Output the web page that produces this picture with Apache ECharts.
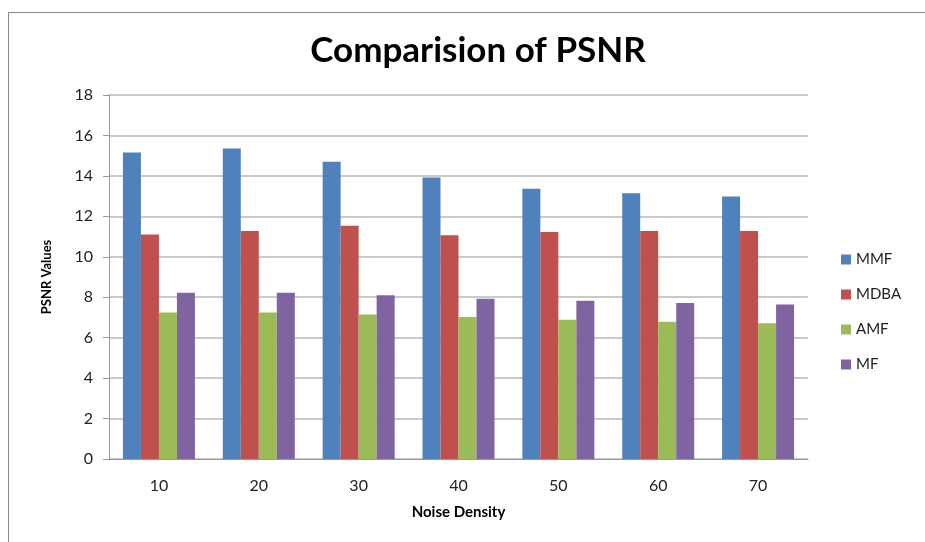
<!DOCTYPE html>
<html>
<head>
<meta charset="utf-8">
<script src="https://cdn.jsdelivr.net/npm/echarts@6/dist/echarts.min.js"></script>
<style>html,body{margin:0;padding:0;background:#fff;}#c{width:925px;height:542px;}</style>
</head>
<body>
<div id="c"></div>
<script>
const categories = ['10', '20', '30', '40', '50', '60', '70'];
const mmf  = [15.16, 15.36, 14.70, 13.92, 13.37, 13.14, 12.98];
const mdba = [11.10, 11.27, 11.53, 11.07, 11.22, 11.27, 11.27];
const amf  = [7.25, 7.25, 7.14, 7.02, 6.89, 6.79, 6.71];
const mf   = [8.22, 8.22, 8.10, 7.92, 7.82, 7.72, 7.64];
const seriesNames = ['MMF', 'MDBA', 'AMF', 'MF'];
const colors = ['#4F81BD', '#C0504D', '#9BBB59', '#8064A2'];

const chart = echarts.init(document.getElementById('c'));
const font = 'Lato, "Open Sans", sans-serif';
chart.setOption({
  animation: false,
  color: colors,
  textStyle: { fontFamily: font },
  title: {
    text: 'Comparision of PSNR',
    left: 473, top: 28, textAlign: 'center',
    textStyle: { fontSize: 35, fontWeight: 'bold', color: '#000', fontFamily: font }
  },
  graphic: [{
    type: 'rect', shape: { x: 8.5, y: 12.5, width: 930, height: 540 },
    style: { fill: 'none', stroke: '#888', lineWidth: 1 }, silent: true
  }],
  legend: {
    orient: 'vertical', left: 836, top: 247,
    itemWidth: 10, itemHeight: 10, itemGap: 20,
    icon: 'rect',
    textStyle: { fontSize: 15, color: '#222', fontFamily: font },
    data: seriesNames
  },
  grid: { left: 109, right: 117, top: 95, bottom: 83 },
  xAxis: {
    type: 'category', data: categories,
    name: 'Noise Density', nameLocation: 'middle', nameGap: 46,
    nameTextStyle: { fontSize: 15, fontWeight: 'bold', color: '#000' },
    axisLine: { lineStyle: { color: '#999' } },
    axisTick: { show: false },
    axisLabel: { fontSize: 16, color: '#222', margin: 19 }
  },
  yAxis: {
    type: 'value', min: 0, max: 18, interval: 2,
    name: 'PSNR Values', nameLocation: 'middle', nameGap: 56,
    nameTextStyle: { fontSize: 13, fontWeight: 'bold', color: '#000' },
    axisLine: { show: true, lineStyle: { color: '#999' } },
    axisTick: { show: true, length: 6, lineStyle: { color: '#999' } },
    axisLabel: { fontSize: 16, color: '#222', margin: 16 },
    splitLine: { lineStyle: { color: '#b8b8b8', width: 1.5 } }
  },
  series: [
    { name: 'MMF', type: 'bar', data: mmf, barWidth: 18, barGap: '0%', barCategoryGap: '28%' },
    { name: 'MDBA', type: 'bar', data: mdba, barWidth: 18, barGap: '0%' },
    { name: 'AMF', type: 'bar', data: amf, barWidth: 18, barGap: '0%' },
    { name: 'MF', type: 'bar', data: mf, barWidth: 18, barGap: '0%' }
  ]
});
</script>
</body>
</html>
